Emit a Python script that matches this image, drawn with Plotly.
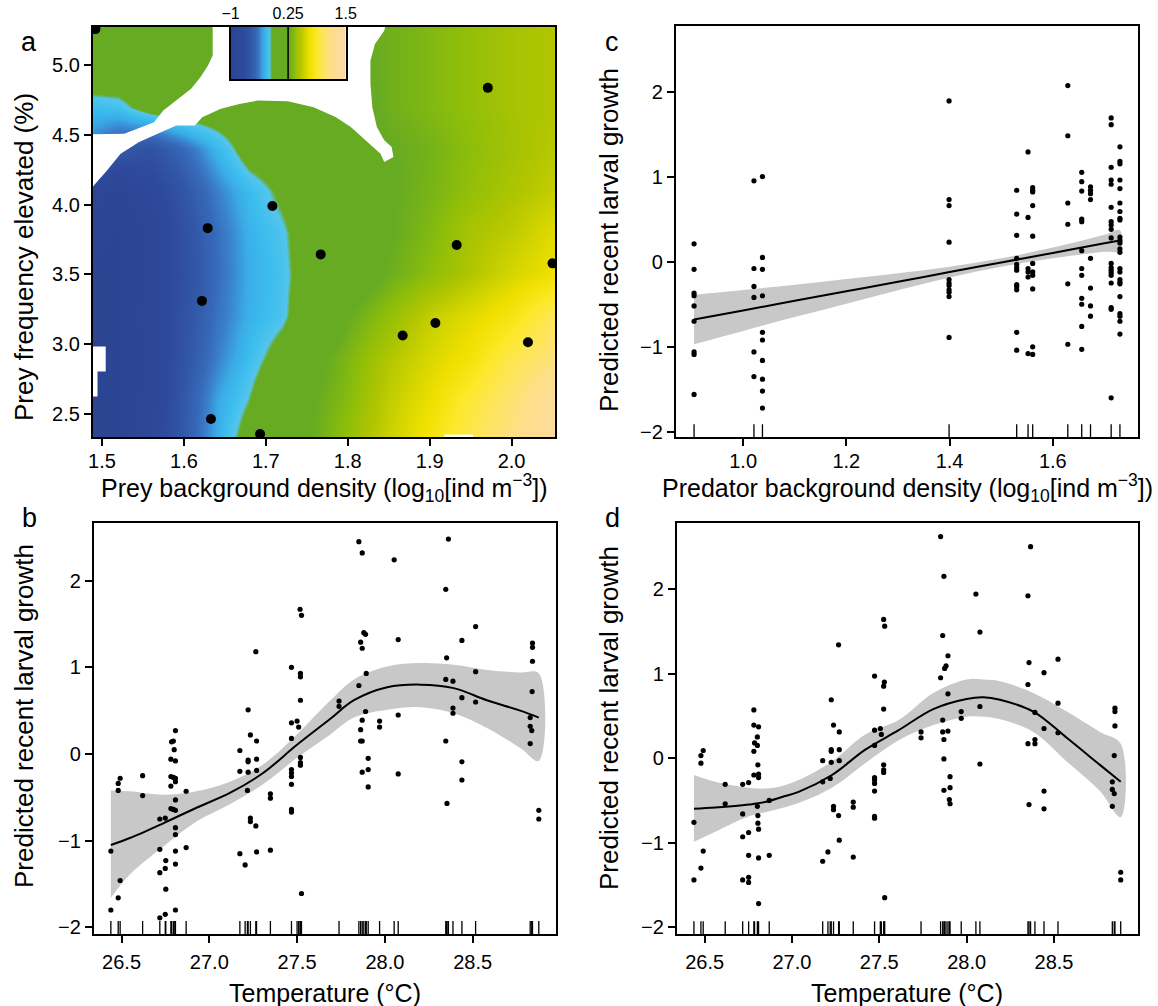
import numpy as np
import plotly.graph_objects as go

W, H = 1158, 1006
FONT = "Liberation Sans, Arial, Helvetica, sans-serif"

# ---------------- Panel a : prey surface ----------------
a_dens_grid = [1.489, 1.52, 1.56, 1.60, 1.64, 1.68, 1.72, 1.76, 1.80, 1.85, 1.90, 1.95, 2.00, 2.053]
a_freq_grid = [2.335, 2.6, 2.9, 3.2, 3.5, 3.8, 4.1, 4.4, 4.7, 5.0, 5.272]
a_effect = [
    [-1.0, -1.0, -0.85, -0.55, -0.28, -0.05, 0.15, 0.27, 0.40, 0.58, 0.76, 0.97, 1.15, 1.42],
    [-1.0, -1.0, -0.88, -0.56, -0.30, -0.14, 0.10, 0.25, 0.36, 0.55, 0.70, 0.90, 1.08, 1.33],
    [-1.0, -1.0, -0.90, -0.60, -0.38, -0.22, -0.05, 0.20, 0.33, 0.50, 0.63, 0.75, 0.96, 1.12],
    [-1.0, -1.0, -0.88, -0.62, -0.42, -0.27, -0.18, 0.05, 0.25, 0.40, 0.56, 0.66, 0.78, 1.00],
    [-1.0, -1.0, -0.90, -0.65, -0.44, -0.28, -0.19, 0.00, 0.12, 0.27, 0.38, 0.50, 0.62, 0.72],
    [-0.95, -1.0, -0.90, -0.63, -0.43, -0.27, -0.17, 0.00, 0.12, 0.24, 0.34, 0.47, 0.54, 0.66],
    [-0.88, -0.95, -0.82, -0.58, -0.38, -0.23, -0.10, 0.02, 0.10, 0.24, 0.31, 0.40, 0.48, 0.56],
    [-0.40, -0.55, -0.62, -0.45, -0.25, -0.05, 0.00, 0.05, 0.12, 0.24, 0.30, 0.38, 0.45, 0.52],
    [-0.22, -0.20, -0.05, 0.00, 0.00, 0.00, 0.05, 0.10, 0.16, 0.28, 0.34, 0.40, 0.46, 0.50],
    [0.05, 0.05, 0.05, 0.05, 0.05, 0.05, 0.10, 0.15, 0.20, 0.28, 0.34, 0.40, 0.46, 0.50],
    [0.05, 0.05, 0.05, 0.05, 0.05, 0.08, 0.12, 0.18, 0.22, 0.28, 0.34, 0.40, 0.46, 0.50],
]
# regions without prediction (blank)
a_gap1_dens = [1.6351, 1.6351, 1.6292, 1.6201, 1.6088, 1.5952, 1.5748, 1.5635, 1.5453, 1.5272, 1.48,
               1.48, 1.4955, 1.5045, 1.5227, 1.5453, 1.5680, 1.5907, 1.6133, 1.6224, 1.6451, 1.6677,
               1.6904, 1.7267, 1.7584, 1.7856, 1.8037, 1.8218, 1.8400, 1.8445, 1.8558, 1.8536, 1.8445,
               1.8355, 1.8300, 1.8277, 1.8277, 1.8332, 1.8445, 1.8468]
a_gap1_freq = [5.30, 5.067, 4.995, 4.912, 4.829, 4.769, 4.674, 4.590, 4.550, 4.507, 4.502,
               4.067, 4.174, 4.233, 4.364, 4.448, 4.507, 4.567, 4.567, 4.626, 4.686, 4.721,
               4.745, 4.740, 4.698, 4.626, 4.555, 4.460, 4.364, 4.305, 4.340, 4.412, 4.460,
               4.555, 4.698, 4.864, 5.031, 5.150, 5.245, 5.30]
a_gap2_dens = [1.48, 1.5045, 1.5045, 1.4945, 1.4945, 1.48]
a_gap2_freq = [2.983, 2.983, 2.805, 2.805, 2.626, 2.626]
a_gap3_dens = [1.918, 1.918, 1.953, 1.953]
a_gap3_freq = [2.30, 2.352, 2.352, 2.30]

a_pts_dens = [1.492, 1.971, 1.708, 1.629, 1.767, 1.933, 2.050, 1.622, 1.907, 1.867, 2.020, 1.633, 1.693]
a_pts_freq = [5.257, 4.836, 3.990, 3.831, 3.643, 3.710, 3.579, 3.310, 3.152, 3.062, 3.014, 2.464, 2.357]

cb_ticks = [-1, 0.25, 1.5]
colorscale = [
    [0.00, "#2c4593"], [0.11, "#2e4a9c"], [0.17, "#3256a6"], [0.22, "#3669b8"],
    [0.25, "#3a80cc"], [0.285, "#3aace6"], [0.31, "#3bbdee"], [0.338, "#55c5ec"],
    [0.347, "#66ab22"],
    [0.50, "#66ab22"], [0.55, "#8cbd0a"], [0.60, "#b2c600"], [0.645, "#d4d500"],
    [0.685, "#f0e000"], [0.74, "#fde827"], [0.80, "#fde55a"], [0.87, "#fddf8a"],
    [1.0, "#fcd9a6"],
]

# ---------------- Panel b : temperature ----------------
b_temp = [26.439, 26.439, 26.481, 26.481, 26.492, 26.481, 26.492, 26.620, 26.620,
          26.718, 26.718, 26.718, 26.718, 26.749, 26.749, 26.752, 26.752, 26.749,
          26.785, 26.795, 26.807, 26.800, 26.781, 26.807, 26.781, 26.795, 26.807, 26.807,
          26.781, 26.807, 26.781, 26.795, 26.807, 26.807, 26.807, 26.807, 26.807, 26.807,
          26.868, 26.868, 27.174, 27.174, 27.174, 27.204, 27.221, 27.221, 27.221, 27.221,
          27.217, 27.234, 27.234, 27.234, 27.265, 27.269, 27.269, 27.269, 27.265, 27.269,
          27.348, 27.348, 27.348, 27.468, 27.468, 27.468, 27.468, 27.468, 27.468, 27.468,
          27.468, 27.468, 27.517, 27.525, 27.519, 27.519, 27.519, 27.500, 27.509, 27.519,
          27.519, 27.519, 27.525, 27.739, 27.739, 27.852, 27.871, 27.880, 27.890, 27.862,
          27.871, 27.894, 27.852, 27.890, 27.871, 27.862, 27.862, 27.871, 27.905, 27.905,
          27.871, 27.905, 27.970, 27.970, 28.053, 28.076, 28.076, 28.076, 28.362, 28.347,
          28.352, 28.347, 28.388, 28.388, 28.388, 28.347, 28.354, 28.439, 28.439, 28.439,
          28.439, 28.517, 28.517, 28.517, 28.841, 28.841, 28.841, 28.839, 28.828, 28.828,
          28.837, 28.828, 28.877, 28.877]
b_growth = [-1.12, -1.80, -0.34, -0.42, -0.28, -1.66, -1.46, -0.25, -0.48,
            -0.75, -1.10, -1.37, -1.89, -0.74, -1.32, -1.23, -1.56, -1.85,
            0.14, 0.15, 0.27, 0.05, -0.06, -0.08, -0.26, -0.27, -0.28, -0.32,
            -0.37, -0.53, -0.63, -0.64, -0.65, -0.85, -0.93, -1.12, -1.27, -1.80,
            -0.43, -1.08, 0.04, -0.20, -1.15, -1.28, 0.51, -0.07, -0.09, -0.21,
            -0.42, 0.22, -0.74, -0.78, 1.18, 0.15, -0.06, -0.19, -0.83, -1.13,
            -0.46, -0.51, -1.11, 1.00, 0.36, 0.18, -0.18, -0.22, -0.26, -0.35,
            -0.64, -0.67, 1.67, 1.60, 0.93, 0.89, 0.62, 0.38, 0.31, -0.04,
            -0.10, -0.13, -1.61, 0.61, 0.55, 2.45, 2.32, 1.40, 1.38, 1.29,
            1.22, 0.93, 0.79, 0.49, 0.39, 0.28, 0.15, 0.15, -0.05, -0.18,
            -0.21, -0.38, 0.38, 0.31, 2.24, 1.32, 0.45, -0.23, 2.48, 1.90,
            1.11, 0.86, 0.84, 0.53, 0.47, 0.15, -0.57, 1.31, 0.65, -0.09,
            -0.30, 1.47, 0.95, 0.60, 1.28, 1.23, 1.07, 0.72, 0.42, 0.32,
            0.27, 0.12, -0.65, -0.75]
b_fit_temp = [26.439, 26.547, 26.737, 26.927, 27.117, 27.306, 27.496, 27.686, 27.824,
              28.013, 28.203, 28.392, 28.581, 28.771, 28.877]
b_fit = [-1.05, -0.97, -0.80, -0.62, -0.45, -0.22, 0.10, 0.40, 0.62, 0.77, 0.80, 0.76, 0.62, 0.50, 0.42]
b_upper = [-0.42, -0.43, -0.47, -0.43, -0.32, -0.12, 0.22, 0.61, 0.86, 1.01, 1.05, 1.03, 0.97, 0.94, 0.93]
b_lower = [-1.66, -1.39, -1.07, -0.78, -0.58, -0.35, -0.05, 0.22, 0.42, 0.51, 0.54, 0.47, 0.30, 0.07, -0.08]

# ---------------- Panel c : predator density ----------------
c_dens_levels = [0.905, 1.021, 1.0375, 1.399, 1.530, 1.552, 1.561, 1.629, 1.656, 1.673, 1.713, 1.730]
c_growth_by_level = [
    [0.21, -0.09, -0.37, -0.40, -0.52, -0.70, -1.06, -1.09, -1.56],
    [0.95, -0.08, -0.29, -0.42, -1.06, -1.35],
    [1.0, 0.05, -0.09, -0.40, -0.83, -0.92, -1.16, -1.38, -1.52, -1.72],
    [1.89, 0.73, 0.66, 0.23, -0.21, -0.25, -0.28, -0.33, -0.36, -0.41, -0.89],
    [0.84, 0.56, 0.31, 0.04, -0.03, -0.07, -0.10, -0.27, -0.29, -0.33, -0.83, -1.04],
    [1.29, 0.52, -0.08, -0.12, -0.18, -1.08],
    [0.87, 0.84, 0.82, 0.66, 0.30, -0.02, -0.12, -0.16, -0.32, -1.0, -1.09],
    [2.07, 1.48, 0.69, 0.44, -0.26, -0.97],
    [1.05, 0.94, 0.83, 0.50, 0.47, 0.13, -0.08, -0.16, -0.43, -0.50, -0.76, -1.03],
    [0.88, 0.84, 0.80, 0.73, 0.04, -0.31, -0.52, -0.64],
    [1.69, 1.61, 1.11, 0.96, 0.91, 0.64, 0.47, 0.43, 0.38, 0.28, -0.02, -0.07, -0.10,
     -0.13, -0.16, -0.25, -0.54, -0.56, -1.60],
    [1.35, 1.18, 1.15, 0.96, 0.86, 0.69, 0.59, 0.51, 0.49, 0.29, 0.25, 0.22, 0.15, 0.11,
     -0.08, -0.12, -0.21, -0.24, -0.26, -0.41, -0.61, -0.64, -0.70, -0.85],
]
c_fit_dens = [0.905, 1.0, 1.1, 1.2, 1.3, 1.4, 1.5, 1.6, 1.7, 1.73]
c_fit = [-0.68, -0.573, -0.46, -0.348, -0.235, -0.122, -0.009, 0.103, 0.216, 0.25]
c_upper = [-0.39, -0.333, -0.27, -0.203, -0.135, -0.059, 0.041, 0.166, 0.316, 0.37]
c_lower = [-0.97, -0.813, -0.65, -0.493, -0.335, -0.185, -0.059, 0.040, 0.116, 0.13]

# ---------------- Panel d : temperature (second model) ----------------
d_temp = [26.439, 26.439, 26.479, 26.479, 26.492, 26.492, 26.479, 26.618, 26.618,
          26.718, 26.752, 26.718, 26.718, 26.752, 26.752, 26.718, 26.752, 26.752,
          26.782, 26.782, 26.809, 26.802, 26.786, 26.802, 26.782, 26.805, 26.782, 26.809,
          26.809, 26.802, 26.805, 26.805, 26.809, 26.809, 26.809, 26.870, 26.870,
          27.176, 27.176, 27.176, 27.206, 27.225, 27.238, 27.225, 27.225, 27.225, 27.219,
          27.238, 27.238, 27.267, 27.271, 27.271, 27.271, 27.267, 27.271, 27.351, 27.351,
          27.351, 27.473, 27.473, 27.473, 27.473, 27.473, 27.473, 27.473, 27.473, 27.473,
          27.525, 27.531, 27.529, 27.525, 27.525, 27.506, 27.512, 27.525, 27.525, 27.525,
          27.531, 27.739, 27.739, 27.851, 27.870, 27.863, 27.893, 27.882, 27.874, 27.851,
          27.893, 27.863, 27.863, 27.893, 27.870, 27.870, 27.905, 27.870, 27.905, 27.901,
          27.905, 27.969, 27.969, 28.053, 28.076, 28.076, 28.076, 28.366, 28.351, 28.357,
          28.351, 28.391, 28.351, 28.391, 28.391, 28.357, 28.443, 28.443, 28.443, 28.443,
          28.523, 28.523, 28.523, 28.849, 28.849, 28.849, 28.845, 28.834, 28.834, 28.845,
          28.834, 28.882, 28.882]
d_growth = [-0.76, -1.44, 0.03, -0.06, 0.09, -1.10, -1.30, -0.31, -0.54,
            -0.31, -0.29, -0.66, -0.93, -0.88, -1.15, -1.44, -1.41, -1.47,
            0.57, 0.39, 0.37, 0.25, 0.18, 0.15, 0.08, -0.08, -0.20, -0.19,
            -0.23, -0.57, -0.68, -0.77, -0.84, -1.18, -1.72, -0.50, -1.15,
            -0.03, -0.28, -1.22, -1.11, 0.69, 0.39, 0.10, 0.08, -0.05, -0.24,
            -0.57, -0.61, 1.34, 0.31, 0.10, -0.03, -0.68, -0.97, -0.52, -0.58,
            -1.17, 0.97, 0.33, 0.15, -0.23, -0.26, -0.30, -0.39, -0.69, -0.71,
            1.64, 1.56, 0.90, 0.85, 0.58, 0.35, 0.28, -0.08, -0.14, -0.17,
            -1.65, 0.31, 0.24, 2.62, 2.15, 1.45, 1.21, 1.09, 1.06, 0.95,
            0.76, 0.45, 0.31, 0.32, 0.22, -0.01, -0.22, -0.38, -0.35, -0.49,
            -0.54, 0.55, 0.47, 1.94, 1.49, 0.61, -0.07, 2.50, 1.92, 1.13,
            0.87, 0.54, 0.17, 0.22, 0.17, -0.55, 1.01, 0.35, -0.39, -0.60,
            1.17, 0.65, 0.30, 0.59, 0.55, 0.38, 0.03, -0.28, -0.37, -0.42,
            -0.57, -1.35, -1.44]
d_fit_temp = [26.439, 26.561, 26.752, 26.847, 26.943, 27.038, 27.229, 27.420, 27.611,
              27.809, 28.0, 28.095, 28.191, 28.382, 28.573, 28.763, 28.882]
d_fit = [-0.60, -0.585, -0.55, -0.52, -0.46, -0.40, -0.20, 0.10, 0.33,
         0.58, 0.70, 0.72, 0.69, 0.55, 0.24, -0.08, -0.28]
d_upper = [-0.20, -0.28, -0.35, -0.36, -0.33, -0.26, -0.04, 0.28, 0.45,
           0.77, 0.93, 0.93, 0.91, 0.77, 0.55, 0.31, 0.17]
d_lower = [-0.99, -0.87, -0.69, -0.64, -0.59, -0.53, -0.35, -0.06, 0.21,
           0.39, 0.49, 0.49, 0.46, 0.31, -0.04, -0.39, -0.70]

temp_ticks = [26.5, 27.0, 27.5, 28.0, 28.5]
growth_ticks = [-2, -1, 0, 1, 2]

# axis ranges
a_xr, a_yr = [1.489, 2.053], [2.335, 5.272]
b_xr, b_yr = [26.343, 28.975], [-2.077, 2.665]
c_xr, c_yr = [0.870, 1.765], [-2.06, 2.77]
d_xr, d_yr = [26.342, 28.981], [-2.08, 2.78]

GRAY = "rgb(200,200,200)"
fig = go.Figure()

# ---- panel a
fig.add_trace(go.Heatmap(x=a_dens_grid, y=a_freq_grid, z=a_effect, zmin=-1, zmax=1.5,
                         colorscale=colorscale, zsmooth="best", showscale=False,
                         hoverinfo="skip", xaxis="x", yaxis="y"))
for gx, gy in [(a_gap1_dens, a_gap1_freq), (a_gap2_dens, a_gap2_freq), (a_gap3_dens, a_gap3_freq)]:
    fig.add_trace(go.Scatter(x=gx, y=gy, fill="toself", fillcolor="white", mode="lines",
                             line=dict(width=0, color="white"), hoverinfo="skip",
                             xaxis="x", yaxis="y"))
fig.add_trace(go.Scatter(x=a_pts_dens, y=a_pts_freq, mode="markers",
                         marker=dict(color="black", size=10), xaxis="x", yaxis="y"))

# colour key (inset)
cb_vals = np.linspace(cb_ticks[0], cb_ticks[-1], 126)
fig.add_trace(go.Heatmap(x=cb_vals, y=[0, 1], z=[cb_vals, cb_vals], zmin=-1, zmax=1.5,
                         colorscale=colorscale, zsmooth="best", showscale=False,
                         hoverinfo="skip", xaxis="x5", yaxis="y5"))
fig.add_trace(go.Scatter(x=[cb_ticks[1], cb_ticks[1]], y=[0, 1], mode="lines",
                         line=dict(color="black", width=1.5), xaxis="x5", yaxis="y5"))


def rug(xs, yr, length):
    ux = sorted(set(xs))
    rx, ry = [], []
    for v in ux:
        rx += [v, v, None]
        ry += [yr[0], yr[0] + length, None]
    return rx, ry


def smooth_panel(xa, ya, px, py, fx, fy, lo, hi, yr):
    fig.add_trace(go.Scatter(x=list(fx) + list(fx)[::-1], y=list(hi) + list(lo)[::-1],
                             fill="toself", fillcolor=GRAY, mode="lines",
                             line=dict(width=0, color=GRAY, shape="spline"),
                             hoverinfo="skip", xaxis=xa, yaxis=ya))
    fig.add_trace(go.Scatter(x=fx, y=fy, mode="lines",
                             line=dict(color="black", width=2, shape="spline"),
                             xaxis=xa, yaxis=ya))
    fig.add_trace(go.Scatter(x=px, y=py, mode="markers",
                             marker=dict(color="black", size=5.2), xaxis=xa, yaxis=ya))
    rx, ry = rug(px, yr, 0.15)
    fig.add_trace(go.Scatter(x=rx, y=ry, mode="lines", line=dict(color="black", width=1.3),
                             hoverinfo="skip", xaxis=xa, yaxis=ya))


smooth_panel("x2", "y2", b_temp, b_growth, b_fit_temp, b_fit, b_lower, b_upper, b_yr)

c_x, c_y = [], []
for lev, vals in zip(c_dens_levels, c_growth_by_level):
    c_x += [lev] * len(vals)
    c_y += vals
smooth_panel("x3", "y3", c_x, c_y, c_fit_dens, c_fit, c_lower, c_upper, c_yr)
smooth_panel("x4", "y4", d_temp, d_growth, d_fit_temp, d_fit, d_lower, d_upper, d_yr)


def ax(domain, anchor, rng, tickvals, fmt, **kw):
    d = dict(domain=domain, anchor=anchor, range=rng, tickvals=tickvals, tickformat=fmt,
             showline=True, mirror=True, linecolor="black", linewidth=2.2,
             ticks="outside", ticklen=7, tickwidth=1.5, tickcolor="black",
             showgrid=False, zeroline=False, fixedrange=True, automargin=False,
             tickfont=dict(size=20, color="black", family=FONT))
    d.update(kw)
    return d


def px_x(p):  # page pixel -> paper fraction
    return p / W


def px_y(p):
    return 1 - p / H


fig.update_layout(
    template="none",
    width=W, height=H, margin=dict(l=0, r=0, t=0, b=0, autoexpand=False),
    paper_bgcolor="white", plot_bgcolor="white", showlegend=False,
    font=dict(family=FONT, color="black"),
    xaxis=ax([px_x(93), px_x(555)], "y", a_xr, [1.5, 1.6, 1.7, 1.8, 1.9, 2.0], ".1f",
             ticklabelstandoff=-2),
    yaxis=ax([px_y(437), px_y(27)], "x", a_yr, [2.5, 3.0, 3.5, 4.0, 4.5, 5.0], ".1f"),
    xaxis2=ax([px_x(94), px_x(556)], "y2", b_xr, temp_ticks, ".1f", ticklabelstandoff=2),
    yaxis2=ax([px_y(934), px_y(523)], "x2", b_yr, growth_ticks, "d"),
    xaxis3=ax([px_x(676), px_x(1138)], "y3", c_xr, [1.0, 1.2, 1.4, 1.6], ".1f",
              ticklabelstandoff=-2),
    yaxis3=ax([px_y(437), px_y(26)], "x3", c_yr, growth_ticks, "d"),
    xaxis4=ax([px_x(677), px_x(1138)], "y4", d_xr, temp_ticks, ".1f", ticklabelstandoff=2),
    yaxis4=ax([px_y(934), px_y(523)], "x4", d_yr, growth_ticks, "d"),
    xaxis5=dict(domain=[px_x(230.5), px_x(345.7)], anchor="y5", range=cb_ticks[::2],
                side="top", tickvals=cb_ticks, ticktext=["−1", "0.25", "1.5"], ticks="",
                showline=True, mirror=True, linecolor="black", linewidth=2,
                showgrid=False, zeroline=False, fixedrange=True, automargin=False,
                tickfont=dict(size=16, color="black", family=FONT)),
    yaxis5=dict(domain=[px_y(79), px_y(27)], anchor="x5", range=[0, 1], showticklabels=False,
                ticks="", showline=True, mirror=True, linecolor="black", linewidth=2,
                showgrid=False, zeroline=False, fixedrange=True, automargin=False),
)

ann = []


def text(s, x, y, size=25, angle=0):
    ann.append(dict(text=s, x=px_x(x), y=px_y(y), xref="paper", yref="paper",
                    showarrow=False, textangle=angle, xanchor="center", yanchor="middle",
                    font=dict(size=size, color="black", family=FONT)))


text("Prey background density (log<sub>10</sub>[ind m<sup>−3</sup>])", 324, 488)
text("Predator background density (log<sub>10</sub>[ind m<sup>−3</sup>])", 907, 488)
text("Temperature (°C)", 325, 993)
text("Temperature (°C)", 907, 993)
text("Prey frequency elevated (%)", 24, 257, size=26, angle=-90)
text("Predicted recent larval growth", 609, 240, size=26, angle=-90)
text("Predicted recent larval growth", 24, 716, size=26, angle=-90)
text("Predicted recent larval growth", 609, 718, size=26, angle=-90)
text("a", 29, 42, size=27)
text("b", 29, 518, size=27)
text("c", 612, 42, size=27)
text("d", 612, 518, size=27)
fig.update_layout(annotations=ann)

# the page's default body margin would shift the 1158x1006 figure; remove it
fig.write_html("out.html", config={"displayModeBar": False},
               post_script="document.body.style.margin='0px';")
